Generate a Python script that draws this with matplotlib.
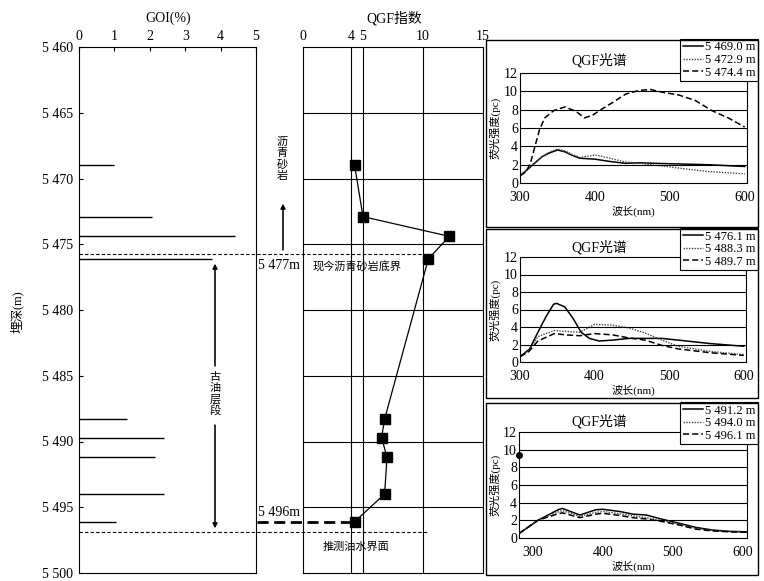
import matplotlib.pyplot as plt
import matplotlib.transforms as mtransforms
from matplotlib.lines import Line2D
from matplotlib.patches import Rectangle

plt.rcParams['font.family'] = ['Liberation Serif', 'Noto Sans CJK SC']
plt.rcParams['font.size'] = 9

# sample depths (m), GOI (%) and QGF index
depths = [5469.0, 5472.9, 5474.4, 5476.1, 5488.3, 5489.7, 5491.2, 5494.0, 5496.1]
goi = [1.0, 2.05, 4.4, 3.75, 1.35, 2.4, 2.15, 2.4, 1.05]
qgf = [4.3, 5.0, 12.2, 10.45, 6.8, 6.55, 7.0, 6.8, 4.3]

depth_ticks = [5460, 5465, 5470, 5475, 5480, 5485, 5490, 5495, 5500]
depth_labels = ['5 460', '5 465', '5 470', '5 475', '5 480', '5 485', '5 490', '5 495', '5 500']
goi_ticks = [0, 1, 2, 3, 4, 5]
qgf_ticks = [0, 4, 5, 10, 15]

asphalt_base = 5475.75   # present-day asphalt sandstone base
owc_depth = 5496.9       # inferred oil-water contact

# QGF spectra, panel 1
wl_1a = [300, 309, 320, 330, 340, 350, 360, 370, 380, 400, 420, 440, 460, 500, 550, 600]
sp_1a = [0.8, 1.4, 2.2, 2.9, 3.3, 3.6, 3.4, 3.0, 2.7, 2.6, 2.35, 2.15, 2.2, 2.1, 2.0, 1.8]
wl_1b = [300, 309, 320, 330, 340, 350, 360, 370, 380, 390, 400, 410, 420, 440, 460, 500, 550, 600]
sp_1b = [0.8, 1.4, 2.2, 2.9, 3.4, 3.7, 3.5, 3.1, 2.8, 2.9, 3.05, 2.9, 2.7, 2.3, 2.15, 1.75, 1.25, 1.0]
wl_1c = [300, 308, 314, 320, 326, 333, 345, 360, 375, 386, 397, 410, 424, 441, 459, 474, 490, 512, 534, 556, 578, 600]
sp_1c = [0.8, 1.2, 2.2, 4.0, 5.8, 7.1, 7.9, 8.3, 7.8, 7.1, 7.4, 8.1, 8.8, 9.7, 10.1, 10.2, 9.9, 9.6, 9.0, 7.9, 7.1, 6.1]

# panel 2
wl_2a = [300, 313, 324, 335, 345, 349, 360, 371, 382, 393, 406, 424, 446, 468, 490, 512, 556, 600]
sp_2a = [0.6, 1.5, 3.4, 5.2, 6.6, 6.7, 6.3, 5.0, 3.4, 2.7, 2.4, 2.5, 2.7, 2.7, 2.7, 2.5, 2.1, 1.8]
wl_2b = [300, 312, 324, 346, 361, 380, 400, 424, 446, 468, 490, 512, 556, 600]
sp_2b = [0.6, 1.3, 2.9, 3.6, 3.5, 3.4, 4.3, 4.2, 3.9, 3.3, 2.5, 1.8, 1.2, 0.85]
wl_2c = [300, 312, 324, 346, 361, 380, 400, 424, 446, 468, 490, 512, 556, 600]
sp_2c = [0.6, 1.2, 2.4, 3.25, 3.1, 3.0, 3.25, 3.1, 2.75, 2.5, 1.9, 1.5, 1.05, 0.75]

# panel 3
wl_3 = [280, 307, 336, 342, 367, 390, 400, 424, 443, 462, 486, 510, 533, 557, 581, 605]
sp_3a = [0.5, 2.0, 3.2, 3.35, 2.6, 3.2, 3.25, 3.0, 2.7, 2.6, 2.1, 1.65, 1.2, 0.9, 0.75, 0.7]
sp_3b = [0.5, 2.0, 2.95, 3.1, 2.45, 2.9, 3.0, 2.75, 2.5, 2.3, 1.95, 1.55, 1.1, 0.85, 0.72, 0.68]
sp_3c = [0.5, 2.0, 2.75, 2.85, 2.3, 2.7, 2.8, 2.55, 2.3, 2.15, 1.85, 1.45, 1.0, 0.8, 0.7, 0.65]
stray_pt = (280, 9.4)

W, H = 764, 581


def fx(px):
    return px / W


def fy(py):
    return 1 - py / H


def vtext(x, y_top, s, step, **kw):
    # stack characters one under another
    for i, ch in enumerate(s):
        fig.text(fx(x), fy(y_top + i * step), ch, ha='center', va='center', **kw)


fig = plt.figure(figsize=(W / 100, H / 100), dpi=100)

# ---- GOI panel
ax_g = fig.add_axes([fx(79), fy(573), (256 - 79) / W, (573 - 47) / H])
ax_g.hlines(depths, 0, goi, color='k', lw=1)
ax_g.set_xlim(0, 5)
ax_g.set_ylim(5500, 5460)
ax_g.xaxis.tick_top()
ax_g.set_xticks(goi_ticks)
ax_g.set_yticks(depth_ticks)
ax_g.set_yticklabels(depth_labels)
ax_g.tick_params(direction='in', length=3, labelsize=10, pad=3)
ax_g.tick_params(axis='y', pad=4)
fig.text(fx(168), fy(18), 'GOI(%)', ha='center', va='center', fontsize=10)
fig.text(fx(17), fy(312), '埋深(m)', rotation=90, ha='center', va='center', fontsize=9)

# ---- QGF index panel
ax_q = fig.add_axes([fx(303), fy(573), (483 - 303) / W, (573 - 47) / H])
ax_q.set_xlim(0, 15)
ax_q.set_ylim(5500, 5460)
ax_q.xaxis.tick_top()
ax_q.set_xticks(qgf_ticks)
ax_q.set_yticks(depth_ticks)
ax_q.set_yticklabels([])
ax_q.tick_params(length=0, labelsize=10, pad=3)
for v in qgf_ticks[1:4]:
    ax_q.axvline(v, color='k', lw=0.8)
for d in depth_ticks[1:-1]:
    ax_q.axhline(d, color='k', lw=0.8)
ax_q.plot(qgf, depths, 'k-', lw=0.9, marker='s', ms=6.5, mfc='k')
ax_q.plot([-3.8, qgf[-1]], [depths[-1]] * 2, color='k', lw=2, ls=(0, (4, 2)), clip_on=False)
fig.text(fx(394), fy(18), 'QGF指数', ha='center', va='center', fontsize=10)

# dashed boundaries across both panels
tr = mtransforms.blended_transform_factory(fig.transFigure, ax_g.transData)
fig.add_artist(Line2D([fx(79), fx(425)], [asphalt_base] * 2, transform=tr,
                      color='k', lw=0.8, ls=(0, (3, 2))))
fig.add_artist(Line2D([fx(79), fx(428)], [owc_depth] * 2, transform=tr,
                      color='k', lw=0.8, ls=(0, (3, 2))))

# annotations
fig.text(fx(258), fy(266), '5 477m', ha='left', va='center', fontsize=10)
fig.text(fx(313), fy(267), '现今沥青砂岩底界', ha='left', va='center', fontsize=8)
fig.text(fx(258), fy(512), '5 496m', ha='left', va='center', fontsize=10)
fig.text(fx(323), fy(547), '推测油水界面', ha='left', va='center', fontsize=8)
vtext(282, 142, '沥青砂岩', 11.5, fontsize=8)
vtext(215, 377, '古油层段', 11, fontsize=8)
arrow = dict(arrowstyle='-|>', lw=0.8, color='k', mutation_scale=7, shrinkA=0, shrinkB=0)
fig.add_artist(plt.annotate('', xy=(fx(283), fy(204)), xytext=(fx(283), fy(250)),
                            xycoords='figure fraction', arrowprops=arrow))
fig.add_artist(plt.annotate('', xy=(fx(215), fy(264)), xytext=(fx(215), fy(366)),
                            xycoords='figure fraction', arrowprops=arrow))
fig.add_artist(plt.annotate('', xy=(fx(215), fy(528)), xytext=(fx(215), fy(425)),
                            xycoords='figure fraction', arrowprops=arrow))

# ---- spectra panels
panels = [
    dict(box=(486, 40, 758, 227), ax=(520, 73, 747, 183), title_y=60, xlim=(300, 603),
         curves=[(wl_1a, sp_1a, '5 469.0 m'), (wl_1b, sp_1b, '5 472.9 m'), (wl_1c, sp_1c, '5 474.4 m')]),
    dict(box=(486, 229, 758, 398), ax=(520, 257, 746, 362), title_y=247, xlim=(300, 603),
         curves=[(wl_2a, sp_2a, '5 476.1 m'), (wl_2b, sp_2b, '5 488.3 m'), (wl_2c, sp_2c, '5 489.7 m')]),
    dict(box=(486, 403, 758, 575), ax=(519, 432, 747, 538), title_y=421, xlim=(280, 606),
         curves=[(wl_3, sp_3a, '5 491.2 m'), (wl_3, sp_3b, '5 494.0 m'), (wl_3, sp_3c, '5 496.1 m')]),
]
styles = [dict(ls='-', lw=1.1, color='k'),
          dict(ls=(0, (1, 1)), lw=1.0, color='#444444'),
          dict(ls=(0, (4, 2)), lw=1.1, color='k')]

for i, p in enumerate(panels):
    x0, y0, x1, y1 = p['box']
    fig.add_artist(Rectangle((fx(x0), fy(y1)), (x1 - x0) / W, (y1 - y0) / H,
                             transform=fig.transFigure, fill=False, lw=1, ec='k'))
    a0, b0, a1, b1 = p['ax']
    ax = fig.add_axes([fx(a0), fy(b1), (a1 - a0) / W, (b1 - b0) / H])
    for (wl, sp, lab), st in zip(p['curves'], styles):
        ax.plot(wl, sp, label=lab, **st)
    if i == 2:
        ax.plot(*stray_pt, 'ko', ms=4, clip_on=False)
    ax.set_xlim(*p['xlim'])
    ax.set_ylim(0, 12)
    ax.set_xticks([300, 400, 500, 600])
    ax.set_yticks([0, 2, 4, 6, 8, 10, 12])
    for v in [2, 4, 6, 8, 10]:
        ax.axhline(v, color='k', lw=0.8)
    ax.tick_params(length=0, labelsize=10, pad=1.5)
    ax.tick_params(axis='x', pad=6)
    ax.set_xlabel('波长(nm)', fontsize=8, labelpad=1)
    fig.text(fx(495), fy((b0 + b1) / 2), '荧光强度(pc)', rotation=90,
             ha='center', va='center', fontsize=8)
    fig.text(fx(599), fy(p['title_y']), 'QGF光谱', ha='center', va='center', fontsize=10)
    leg = ax.legend(loc='upper right', bbox_to_anchor=(fx(758), fy(y0 - 1)),
                    bbox_transform=fig.transFigure, fontsize=9, handlelength=1.6,
                    handletextpad=0.2, labelspacing=0.05, borderpad=0.2,
                    borderaxespad=0, fancybox=False, framealpha=1, edgecolor='k')
    leg.get_frame().set_linewidth(0.8)

fig.savefig('out.png', dpi=100)
